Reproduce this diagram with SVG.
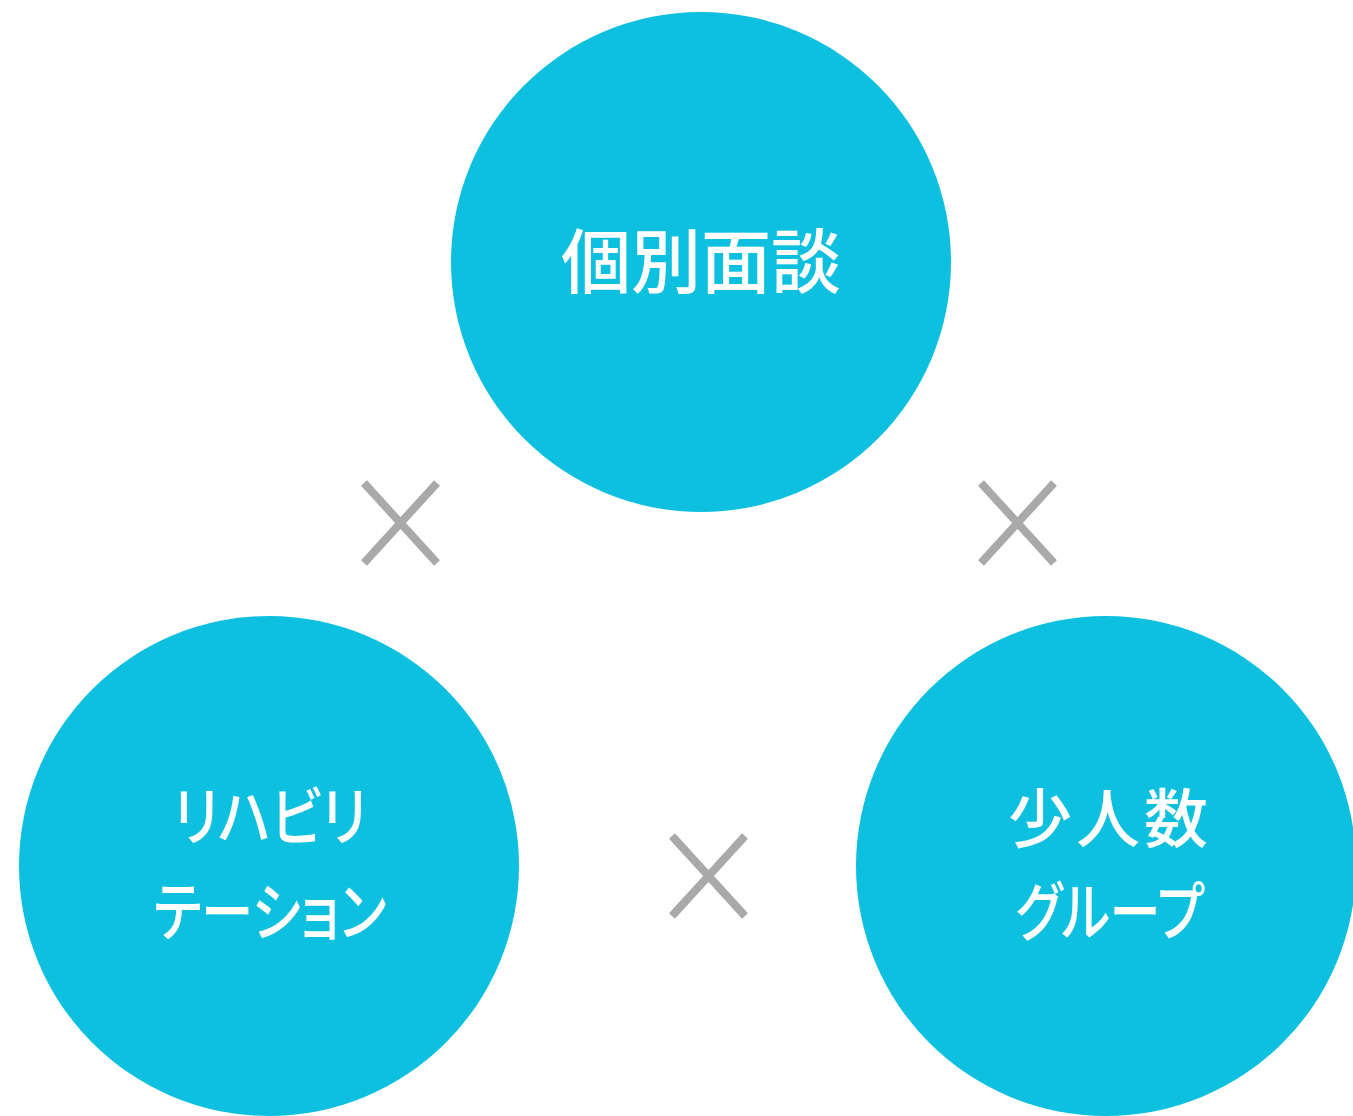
<svg xmlns="http://www.w3.org/2000/svg" width="1353" height="1116" viewBox="0 0 1353 1116">
<style>
.c{fill:#0DC0E0}
.x{stroke:#A9A9A9;stroke-width:8;fill:none;stroke-linecap:butt}
.t{fill:#FFFFFF;font-family:"Noto Sans CJK JP","Noto Sans CJK SC",sans-serif;font-weight:500;text-anchor:middle;font-feature-settings:"palt"}
.t1{font-size:70px}
.t2{font-size:64px;letter-spacing:4px}
.k{font-size:64px}
</style>
<rect width="1353" height="1116" fill="#FFFFFF"/>
<g id="node-kobetsu">
<circle class="c" cx="701" cy="262" r="250"/>
<text class="t t1" x="701" y="288">個別面談</text>
</g>
<g id="node-rehab">
<circle class="c" cx="269" cy="866" r="250"/>
<text class="t k" transform="translate(270 840) scale(0.86 1)" x="0" y="0">リハビリ</text>
<text class="t k" transform="translate(270 935) scale(0.82 1)" x="0" y="0">テーション</text>
</g>
<g id="node-group">
<circle class="c" cx="1106" cy="866" r="250"/>
<text class="t t2" x="1110" y="842">少人数</text>
<text class="t k" transform="translate(1110 935) scale(0.8 1)" x="0" y="0">グループ</text>
</g>
<g id="connectors">
<path class="x" d="M364 483L437 563M437 483L364 563"/>
<path class="x" d="M981 483L1054 563M1054 483L981 563"/>
<path class="x" d="M672 836L745 916M745 836L672 916"/>
</g>
</svg>
